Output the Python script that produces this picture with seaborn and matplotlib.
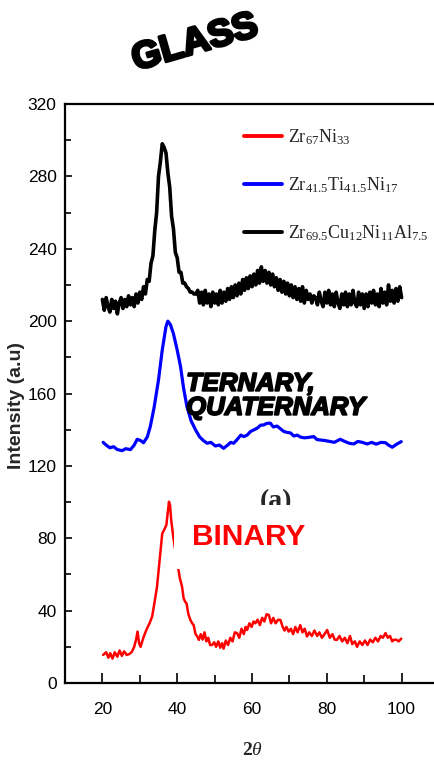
import numpy as np
import pandas as pd
import matplotlib
matplotlib.use("Agg")
import matplotlib.pyplot as plt
import matplotlib.patheffects as pe
from matplotlib.ticker import MultipleLocator
import seaborn as sns

# ---------------- data ----------------
black_x = np.arange(20.0, 100.01, 0.5)
black_y = [212, 206, 213, 208, 205, 212, 207, 211, 204, 210, 213,
           207, 212, 208, 214, 209, 213, 208, 215, 210, 216,
           212, 219, 215, 223, 222, 232,
           236, 250, 260, 280, 288, 298,
           296, 293, 282, 274,
           258, 251, 238, 235, 227, 227,
           221, 221, 219, 218, 216, 216, 215, 215,
           217, 210, 216, 209, 217, 210, 215, 208, 216, 210,
           215, 209, 217, 210, 216, 211, 218, 212, 219, 213,
           220, 214, 221, 215, 223, 217, 224, 218, 225, 219,
           226, 220, 228, 221, 230, 222, 228, 221, 227, 220,
           226, 219, 224, 217, 223, 216, 222, 215, 221, 214,
           220, 213, 219, 212, 218, 211, 219, 210, 217, 212,
           215, 210, 214, 213, 209, 216, 211, 208, 216, 210,
           217, 209, 215, 208, 216, 210, 207, 215, 209, 216,
           208, 215, 209, 217, 210, 208, 216, 209, 215, 207,
           215, 208, 216, 210, 217, 209, 215, 208, 218, 210,
           216, 209, 220, 211, 217, 210, 218, 211, 219, 213]

blue_x = [20.2, 21, 22, 23, 24, 25.3, 26.2, 27.5, 28.5, 29.3, 30.2, 31, 32, 32.8,
          33.8, 35, 36, 37, 37.5, 38.2, 39, 40, 40.9, 41.7, 42.6, 43.7, 44.9, 46,
          47, 48, 49, 50.2, 51.3, 52.4, 53.5, 54.3, 55.1, 56, 57, 57.8, 58.7, 59.6,
          60.5, 61.5, 62.3, 63.1, 64, 64.9, 65.7, 66.7, 67.6, 68.5, 69.4, 70.3,
          71.2, 72.1, 73, 74, 75, 76.5, 77.4, 78.3, 79.5, 80.8, 82, 83.6, 84.8,
          86, 87.2, 88.3, 89.5, 90.8, 92, 93.2, 94.5, 95.7, 96.5, 97.5, 98.7, 99.9]
blue_y = [133, 131.5, 130, 130.6, 129, 128.4, 129.5, 129, 131.5, 134.7, 134, 132.8,
          136, 141.7, 152, 167.5, 184, 197, 200, 198, 193, 184, 174.8, 163, 152.8,
          145, 139.9, 136, 134, 132.5, 133, 131, 131.5, 129.7, 131.5, 133, 132.5,
          134.5, 137, 136.2, 137, 139, 139.9, 141, 142.5, 142.6, 143.5, 143.6,
          141.5, 142, 140.5, 139, 138.5, 138.2, 136.5, 137, 135.9, 135.5, 135.7,
          136.2, 134.5, 134.3, 134, 133.5, 133, 134.7, 133.5, 132.5, 132.1, 133.5,
          133, 132.1, 133, 132, 133, 132.8, 131.5, 130.3, 132, 133.4]

red_x = [20.2, 21, 21.6, 22.1, 22.7, 23.3, 24, 24.6, 25.2, 25.8, 26.5, 27.2, 27.9,
         28.5, 29.0, 29.4, 29.8, 30.2, 30.8, 31.3, 31.9, 32.6, 33.3, 33.9, 34.6,
         35.3, 36, 36.6, 37.1, 37.5, 37.8, 38.1, 38.4, 39.0, 39.6, 40.2, 40.7,
         41.3, 41.7, 42.1, 42.5, 43, 43.5, 44, 44.4, 44.9, 45.3, 45.8, 46.3, 46.8,
         47.3, 47.8, 48.3, 48.8, 49.3, 49.9, 50.4, 51, 51.5, 52, 52.4, 53, 53.6,
         54.2, 54.8, 55.4, 56, 56.6, 57.2, 57.8, 58.3, 58.7, 59.3, 59.9, 60.4,
         60.9, 61.5, 62.1, 62.7, 63.3, 63.9, 64.5, 65.1, 65.7, 66.3, 67, 67.6,
         68.2, 68.7, 69.2, 69.8, 70.4, 71, 71.6, 72.2, 72.9, 73.5, 74.1, 74.7,
         75.3, 76, 76.7, 77.4, 78, 78.7, 79.4, 80.1, 80.8, 81.5, 82.1, 82.7, 83.4,
         84.1, 84.8, 85.5, 86.2, 86.8, 87.5, 88.1, 88.8, 89.5, 90.2, 90.9, 91.6,
         92.3, 93, 93.7, 94.4, 95, 95.7, 96.3, 96.9, 97.5, 97.9, 98.5, 99.2, 99.9]
red_y = [15.5, 17, 14, 16.5, 13.5, 17, 14.5, 18, 15, 17.5, 15.5, 16, 17.3,
         20, 24, 28.4, 22, 20, 24, 27, 30, 33, 36.7, 44, 53.2,
         68, 82.6, 85, 87.3, 95, 100.2, 98, 90, 80, 72, 64.3, 58,
         53.2, 47, 45, 44, 38, 35, 33, 32, 27, 26, 23.8, 27, 24,
         28, 23, 25, 21, 21, 22.5, 20, 23, 19.5, 22, 19, 23.5, 21,
         25, 23, 28, 27.6, 25, 30, 27, 31, 29.3, 33, 31, 34,
         33, 35, 32, 36, 34, 38, 37.6, 33, 36, 33, 35, 34.8,
         31, 29, 31, 28.4, 30, 27, 31, 28, 32, 28, 30, 25.7,
         28, 26, 29, 26, 28, 25, 27, 29.3, 25, 27, 24, 23.8, 26,
         23, 25, 22, 26, 21.5, 23, 20, 23, 21, 23.5, 21, 24,
         22.5, 25, 23, 26, 25, 27.6, 25, 26, 23, 23.8, 24, 23, 24.5]

labels = [r"Zr$_{67}$Ni$_{33}$",
          r"Zr$_{41.5}$Ti$_{41.5}$Ni$_{17}$",
          r"Zr$_{69.5}$Cu$_{12}$Ni$_{11}$Al$_{7.5}$"]
colors = ["#ff0000", "#0000ff", "#000000"]
y_ticks = [0, 40, 80, 120, 160, 200, 240, 280, 320]
x_ticks = [20, 40, 60, 80, 100]

# ---------------- style ----------------
sns.set_style("ticks")
plt.rcParams["font.family"] = ["Liberation Sans", "DejaVu Sans"]
plt.rcParams["mathtext.fontset"] = "custom"
plt.rcParams["mathtext.rm"] = "Liberation Serif"
plt.rcParams["mathtext.it"] = "Liberation Serif:italic"
plt.rcParams["mathtext.bf"] = "Liberation Serif:bold"

fig = plt.figure(figsize=(4.34, 7.67), dpi=100)
ax = fig.add_axes([65 / 434, 84 / 767, 374 / 434, 579 / 767])

df_r = pd.DataFrame({"x": red_x, "y": red_y})
df_b = pd.DataFrame({"x": blue_x, "y": blue_y})
df_k = pd.DataFrame({"x": black_x, "y": black_y})
sns.lineplot(data=df_r, x="x", y="y", ax=ax, color=colors[0], lw=1.8,
             label=labels[0], sort=False, estimator=None)
sns.lineplot(data=df_b, x="x", y="y", ax=ax, color=colors[1], lw=2.3,
             label=labels[1], sort=False, estimator=None)
sns.lineplot(data=df_k, x="x", y="y", ax=ax, color=colors[2], lw=2.6,
             label=labels[2], sort=False, estimator=None)

ax.set_xlim(10, 110)
ax.set_ylim(0, 320)
ax.set_xticks(x_ticks)
ax.set_yticks(y_ticks)
ax.xaxis.set_minor_locator(MultipleLocator(10))
ax.yaxis.set_minor_locator(MultipleLocator(20))
ax.tick_params(axis="both", which="both", direction="in", width=1.2, color="black")
ax.tick_params(axis="x", which="major", length=7, pad=14)
ax.tick_params(axis="x", which="minor", length=6)
ax.tick_params(axis="y", which="major", length=5, pad=6)
ax.tick_params(axis="y", which="minor", length=4)
for lab in ax.get_xticklabels() + ax.get_yticklabels():
    lab.set_fontsize(12.5)
    lab.set_color("black")
for s in ax.spines.values():
    s.set_linewidth(1.6)
    s.set_color("black")

ax.set_xlabel(r"$\mathbf{2}\theta$", fontsize=14, labelpad=18)
ax.set_ylabel("Intensity (a.u)", fontsize=14, fontweight="bold")
ax.yaxis.set_label_coords(-0.108, 0.48)

leg = ax.legend(loc="upper left", bbox_to_anchor=(0.455, 0.975), frameon=False,
                handlelength=2.1, handletextpad=0.3, labelspacing=1.55,
                borderpad=0, prop={"family": "Liberation Serif", "size": 13})
for ln in leg.get_lines():
    ln.set_linewidth(2.8)

ax.text(42.4, 172, "TERNARY,\nQUATERNARY", fontsize=18.5, fontweight="bold",
        fontstyle="italic", ha="left", va="top", linespacing=1.0, color="black",
        path_effects=[pe.withStroke(linewidth=1.3, foreground="black")], zorder=5)
ax.text(66.3, 100.5, "(a)", fontsize=20, fontweight="bold", family="Liberation Serif",
        ha="center", va="center", zorder=2.5)
ax.text(44.0, 80.5, "BINARY", fontsize=21.5, fontweight="bold", color="#ff0000",
        ha="left", va="center", zorder=4,
        bbox=dict(boxstyle="square,pad=0.6", fc="white", ec="none"))

fig.text(195 / 434, 1 - 43 / 767, "GLASS", fontsize=27, fontweight="bold",
         rotation=16, ha="center", va="center", color="black",
         path_effects=[pe.withStroke(linewidth=2.2, foreground="black")])

fig.savefig("out.png", dpi=100)
